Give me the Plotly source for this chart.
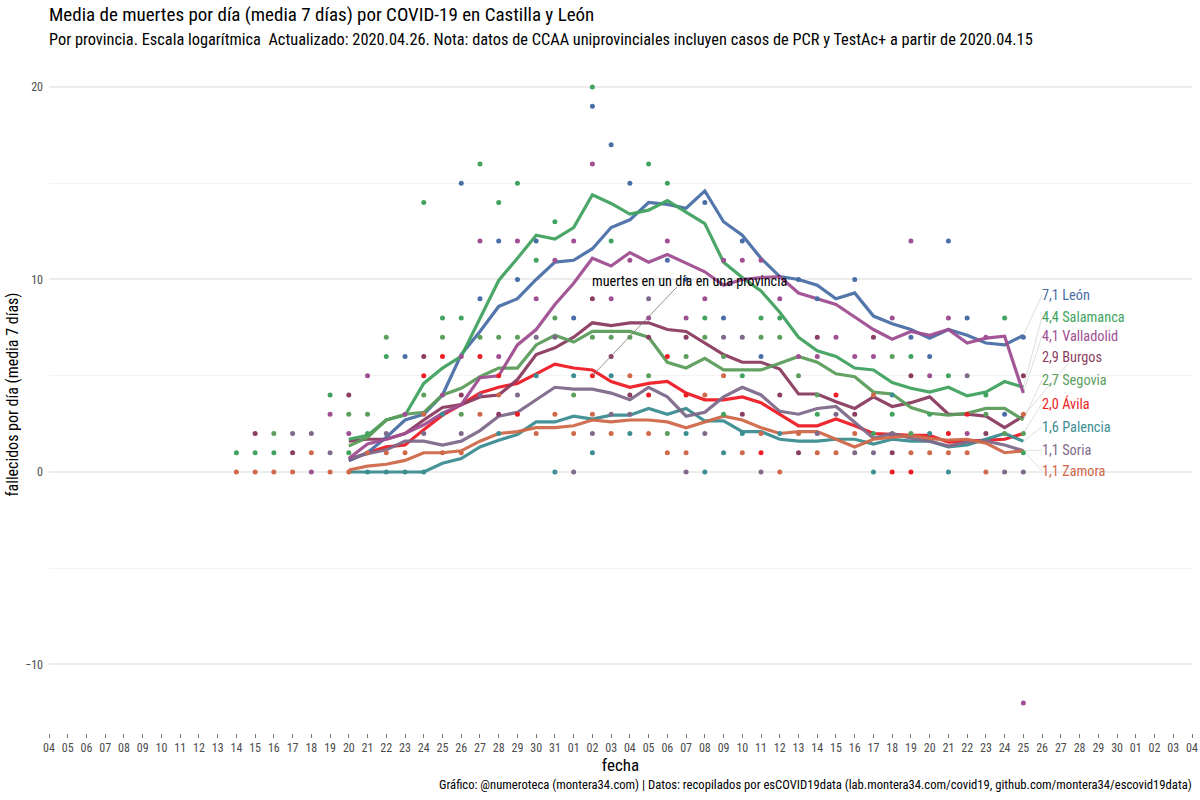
import plotly.graph_objects as go
from datetime import date, timedelta

FONT = "Liberation Sans Narrow, Roboto Condensed, Roboto"

inicio = date(2020, 3, 20)
fechas = [(inicio + timedelta(days=i)).isoformat() for i in range(37)]

avila = [0.6,1.0,1.3,1.4,2.2,2.95,3.5,4.1,4.4,4.6,5.1,5.6,5.4,5.3,4.7,4.4,4.6,4.7,4.1,3.75,3.75,3.9,3.6,3.0,2.4,2.4,2.75,2.4,2.0,1.95,1.9,1.9,1.55,1.6,1.65,1.7,2.0]
burgos = [1.6,1.7,1.7,2.0,2.7,3.35,3.5,3.9,4.0,4.8,6.1,6.45,7.0,7.75,7.6,7.75,7.75,7.4,7.3,6.7,6.1,5.7,5.7,5.35,4.05,4.05,3.65,3.3,3.9,3.4,3.6,3.9,3.0,3.0,2.9,2.3,2.9]
leon = [0.6,1.0,1.8,2.7,3.0,4.0,6.1,7.3,8.6,9.0,10.0,10.9,11.0,11.6,12.7,13.1,14.0,13.9,13.7,14.6,13.0,12.3,11.1,10.15,10.0,9.7,9.0,9.3,8.1,7.7,7.4,6.95,7.4,7.1,6.7,6.6,7.1]
palencia = [0,0,0,0,0,0.45,0.7,1.3,1.65,1.95,2.6,2.6,2.9,2.75,2.95,2.95,3.3,3.0,3.3,2.65,2.65,2.1,2.1,1.7,1.6,1.6,1.7,1.7,1.45,1.7,1.6,1.6,1.3,1.4,1.7,2.0,1.6]
salamanca = [1.7,1.9,2.7,2.95,4.6,5.4,6.0,8.0,9.95,11.1,12.3,12.1,12.7,14.4,13.95,13.4,13.6,14.1,13.5,12.9,10.9,10.1,9.4,8.3,7.0,6.3,6.0,5.4,5.3,4.65,4.35,4.15,4.4,3.95,4.15,4.7,4.4]
segovia = [1.35,1.8,2.7,3.0,3.1,4.0,4.35,4.95,5.4,5.4,6.6,7.1,6.75,7.3,7.3,7.3,7.0,5.7,5.4,5.9,5.3,5.3,5.3,5.65,6.0,5.7,5.1,4.95,4.15,4.05,3.35,3.05,2.95,3.05,3.3,3.3,2.7]
soria = [0.7,0.95,1.15,1.6,1.6,1.4,1.6,2.15,2.9,3.1,3.75,4.4,4.3,4.3,4.1,3.75,4.4,3.9,2.9,3.1,3.9,4.4,4.0,3.15,3.0,3.3,3.4,2.6,1.75,2.0,1.75,1.6,1.35,1.55,1.6,1.4,1.1]
valladolid = [0.7,1.45,1.7,2.0,2.45,3.05,3.5,4.9,5.0,6.6,7.4,8.7,9.8,11.1,10.7,11.4,10.9,11.3,10.85,10.4,9.7,10.0,10.1,10.15,9.3,9.0,8.7,8.05,7.4,6.9,7.3,7.1,7.4,6.7,6.95,7.05,4.1]
zamora = [0.1,0.3,0.4,0.6,1.0,1.0,1.1,1.6,2.0,2.1,2.3,2.3,2.4,2.7,2.6,2.7,2.7,2.6,2.3,2.6,2.9,2.7,2.3,2.0,2.1,2.1,1.7,1.3,1.7,1.8,1.9,1.75,1.65,1.7,1.5,1.0,1.1]

diario_avila = {"03-24":5,"03-25":6,"03-27":6,"03-28":5,"03-29":3,"04-02":5,"04-05":4,"04-06":6,"04-07":4,"04-11":1,"04-15":4,"04-18":0,"04-19":0,"04-21":2,"04-22":3}
diario_burgos = {"03-15":2,"03-17":1,"03-20":4,"03-24":6,"03-26":4,"03-28":3,"04-02":9,"04-03":6,"04-04":4,"04-05":7,"04-07":7,"04-10":3,"04-12":4,"04-13":1,"04-14":7,"04-16":3,"04-17":7,"04-18":1,"04-19":5,"04-23":2,"04-25":5}
diario_leon = {"03-23":6,"03-26":15,"03-27":9,"03-28":12,"03-29":10,"03-30":12,"04-01":8,"04-02":19,"04-03":17,"04-04":15,"04-06":11,"04-07":10,"04-08":14,"04-09":8,"04-10":12,"04-11":6,"04-13":10,"04-14":9,"04-16":10,"04-19":7,"04-20":6,"04-21":12,"04-22":8,"04-24":3,"04-25":7}
diario_palencia = {"03-21":0,"03-22":0,"03-23":0,"03-24":0,"03-25":3,"03-28":2,"03-30":5,"03-31":0,"04-01":5,"04-02":1,"04-03":5,"04-04":2,"04-07":2,"04-08":0,"04-09":1,"04-10":2,"04-12":2,"04-17":0,"04-18":4,"04-20":2,"04-21":0}
diario_salamanca = {"03-14":1,"03-15":1,"03-16":1,"03-19":4,"03-20":1,"03-21":2,"03-22":6,"03-24":14,"03-25":8,"03-26":8,"03-27":16,"03-28":14,"03-29":15,"03-30":11,"03-31":13,"04-02":20,"04-03":12,"04-05":16,"04-06":15,"04-08":8,"04-09":3,"04-10":5,"04-11":8,"04-12":8,"04-14":3,"04-17":2,"04-18":3,"04-19":6,"04-20":3,"04-21":5,"04-23":4,"04-24":8,"04-25":1}
diario_segovia = {"03-16":2,"03-20":3,"03-21":3,"03-22":7,"03-24":4,"03-25":7,"03-26":3,"03-27":7,"03-28":7,"03-29":7,"03-31":8,"04-01":4,"04-02":7,"04-03":7,"04-04":7,"04-05":5,"04-06":2,"04-07":6,"04-08":7,"04-09":6,"04-11":7,"04-12":7,"04-13":5,"04-14":4,"04-18":6,"04-19":2,"04-23":3,"04-24":2,"04-25":2}
diario_soria = {"03-17":2,"03-18":2,"03-19":1,"03-22":2,"03-24":2,"03-26":2,"03-27":4,"03-29":4,"03-30":7,"03-31":7,"04-01":0,"04-02":2,"04-03":3,"04-04":3,"04-05":9,"04-07":0,"04-08":2,"04-09":7,"04-10":7,"04-11":0,"04-14":2,"04-15":3,"04-16":1,"04-17":1,"04-18":2,"04-22":5,"04-24":0,"04-25":0}
diario_valladolid = {"03-18":0,"03-19":3,"03-20":2,"03-21":5,"03-23":3,"03-25":4,"03-26":6,"03-27":12,"03-28":6,"03-29":12,"03-30":9,"03-31":11,"04-01":12,"04-02":16,"04-03":9,"04-04":11,"04-05":8,"04-06":12,"04-07":8,"04-08":9,"04-09":11,"04-10":11,"04-11":11,"04-12":9,"04-13":6,"04-14":6,"04-15":7,"04-16":6,"04-17":6,"04-18":8,"04-19":12,"04-20":5,"04-21":8,"04-22":2,"04-23":7,"04-25":-12}
diario_zamora = {"03-14":0,"03-15":0,"03-16":0,"03-17":0,"03-18":1,"03-19":0,"03-20":0,"03-21":1,"03-22":1,"03-23":1,"03-24":3,"03-25":1,"03-26":1,"03-27":3,"03-28":4,"03-30":2,"03-31":3,"04-01":2,"04-02":3,"04-03":2,"04-04":5,"04-05":2,"04-06":1,"04-07":1,"04-08":4,"04-09":5,"04-10":1,"04-11":2,"04-12":0,"04-13":2,"04-14":1,"04-15":1,"04-16":2,"04-17":4,"04-19":1,"04-20":1,"04-21":1,"04-22":1,"04-23":0,"04-25":3}

provincias = ["Ávila","Burgos","León","Palencia","Salamanca","Segovia","Soria","Valladolid","Zamora"]
colores = ["#EE1C25","#8C3D62","#4A6FA7","#3D8E92","#42A35F","#5C9E5C","#7F6A8B","#A04F92","#D0694A"]
medias = [avila,burgos,leon,palencia,salamanca,segovia,soria,valladolid,zamora]
diarios = [diario_avila,diario_burgos,diario_leon,diario_palencia,diario_salamanca,diario_segovia,diario_soria,diario_valladolid,diario_zamora]
etiquetas = ["2,0 Ávila","2,9 Burgos","7,1 León","1,6 Palencia","4,4 Salamanca","2,7 Segovia","1,1 Soria","4,1 Valladolid","1,1 Zamora"]
etiqueta_y = [3.58,5.97,9.2,2.34,8.05,4.78,1.14,7.07,0.05]

titulo = "Media de muertes por día (media 7 días) por COVID-19 en Castilla y León"
subtitulo = "Por provincia. Escala logarítmica  Actualizado: 2020.04.26. Nota: datos de CCAA uniprovinciales incluyen casos de PCR y TestAc+ a partir de 2020.04.15"
pie = "Gráfico: @numeroteca (montera34.com) | Datos: recopilados por esCOVID19data (lab.montera34.com/covid19, github.com/montera34/escovid19data)"
nota = "muertes en un día en una provincia"

fig = go.Figure()
for nombre, color, media in zip(provincias, colores, medias):
    fig.add_trace(go.Scatter(x=fechas, y=media, mode="lines", name=nombre,
                             line=dict(color=color, width=3.2), opacity=0.95, hoverinfo="skip"))
for nombre, color, d in zip(provincias, colores, diarios):
    fig.add_trace(go.Scatter(x=["2020-" + k for k in d], y=list(d.values()), mode="markers", name=nombre,
                             marker=dict(color=color, size=5), hoverinfo="skip"))

ultimo = fechas[-1]
for color, media, etq, ey in zip(colores, medias, etiquetas, etiqueta_y):
    es_burgos = etq == "2,9 Burgos"
    fig.add_shape(type="line", xref="x", yref="y", x0=ultimo, y0=media[-1],
                  x1="2020-04-27 10:00" if es_burgos else "2020-04-26",
                  y1=ey - 0.3 if es_burgos else ey,
                  line=dict(color="#d0d0d0", width=0.7), layer="below")
    fig.add_annotation(x="2020-04-26", y=ey, xref="x", yref="y", text=etq, showarrow=False, borderpad=0,
                       xshift=-1, xanchor="left", yanchor="middle", font=dict(family=FONT, size=14.3, color=color))

fig.add_shape(type="line", xref="x", yref="y", x0="2020-04-02", y0=5, x1="2020-04-06 12:00", y1=9.6,
              line=dict(color="#777777", width=0.8))
fig.add_annotation(x="2020-04-02", y=9.92, xref="x", yref="y", text=nota, showarrow=False, borderpad=0,
                   xshift=-1, xanchor="left", yanchor="middle", font=dict(family=FONT, size=14.2, color="#000000"))

for texto, px, py, tam, anc, dx in [(titulo, 49, 15, 19, "left", -1),
                                    (subtitulo, 49, 39, 16.35, "left", -1),
                                    (pie, 1192, 784, 12.65, "right", 1)]:
    fig.add_annotation(x=(px - 49) / 1143, y=(733 - py) / 677, xref="paper", yref="paper", text=texto,
                       showarrow=False, xanchor=anc, yanchor="middle", borderpad=0, xshift=dx,
                       font=dict(family=FONT, size=tam, color="#000000"))

fig.update_layout(
    width=1200, height=800, margin=dict(l=49, r=8, t=56, b=67),
    paper_bgcolor="#ffffff", plot_bgcolor="#ffffff", showlegend=False,
    font=dict(family=FONT, color="#000000"),
    xaxis=dict(type="date", range=["2020-03-04", "2020-05-04"], dtick=86400000, tick0="2020-03-04",
               tickformat="%d", tickangle=0, ticks="outside", ticklen=4, tickwidth=1, tickcolor="#777777",
               showgrid=False, zeroline=False, showline=False, automargin=False,
               tickfont=dict(family=FONT, size=12, color="#4d4d4d"),
               title=dict(text="fecha", font=dict(family=FONT, size=17, color="#000000"), standoff=4)),
    yaxis=dict(range=[-13.56, 21.61], tick0=0, dtick=10, showgrid=True, gridcolor="#ececec", gridwidth=1.5,
               zeroline=False, showline=False, ticks="", ticklabelstandoff=5, automargin=False,
               minor=dict(tick0=0, dtick=5, showgrid=True, gridcolor="#f3f3f3", gridwidth=1.2),
               tickfont=dict(family=FONT, size=12, color="#4d4d4d"),
               title=dict(text="fallecidos por día (media 7 días)", font=dict(family=FONT, size=16, color="#000000"), standoff=2)),
)
fig.write_html("out.html", post_script="document.body.style.margin='0';", config={"displayModeBar": False})
